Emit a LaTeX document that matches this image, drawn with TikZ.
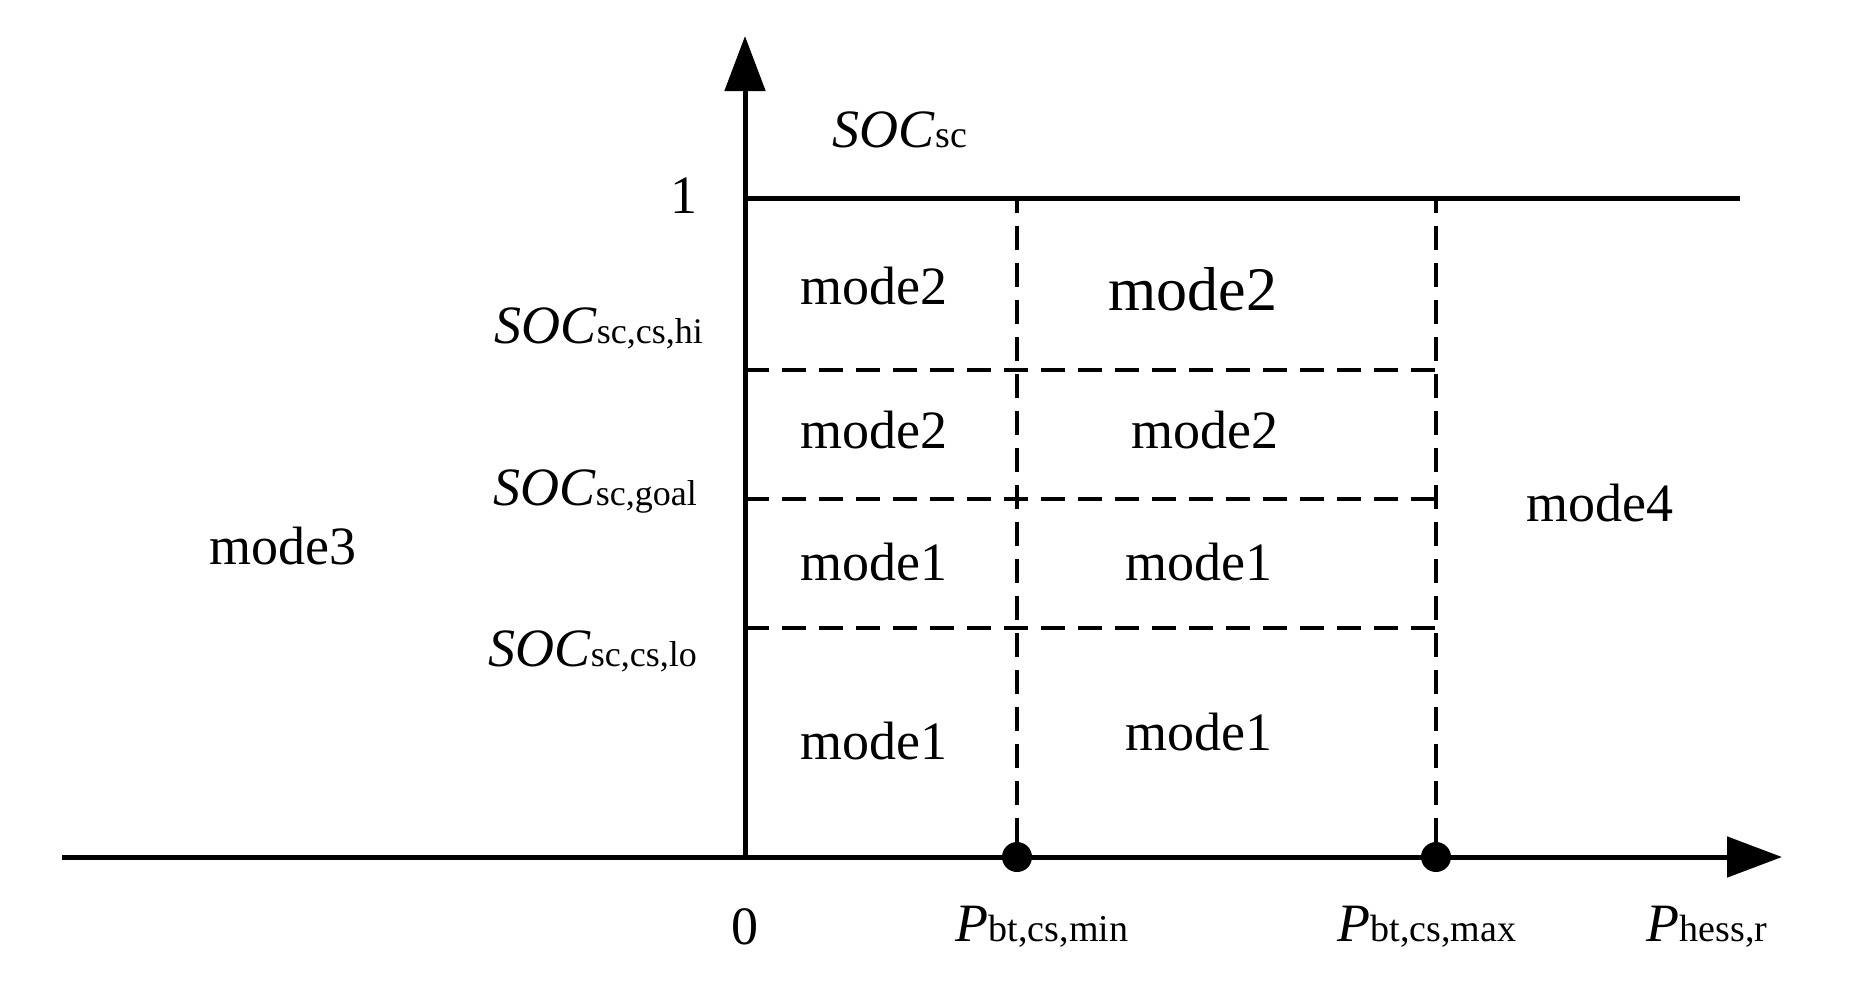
\documentclass[tikz,border=0pt]{standalone}
\usepackage{fontspec}
\setmainfont{Liberation Serif}
\usetikzlibrary{arrows.meta}
\begin{document}
\begin{tikzpicture}[x=1pt,y=-1pt,
  ax/.style={line width=5pt,-{Triangle[length=55pt,width=40pt]}},
  sl/.style={line width=5pt},
  dl/.style={line width=3.5pt,dash pattern=on 24pt off 13pt},
  lab/.style={font=\fontsize{54}{60}\selectfont,inner sep=0pt},
  big/.style={font=\fontsize{62}{68}\selectfont,inner sep=0pt},
  dot/.style={circle,fill=black,inner sep=0pt,minimum size=30pt}]
\useasboundingbox (0,0) rectangle (1868,1004);
\coordinate (o) at (745,857);
\coordinate (yt) at (745,36);
\coordinate (xs) at (62,857);
\coordinate (xt) at (1782,857);
\coordinate (t1) at (745,198);
\coordinate (t2) at (1740,198);
\node[dot] (d1) at (1017,857) {};
\node[dot] (d2) at (1436,857) {};
\coordinate (v1) at (1017,198);
\coordinate (v2) at (1436,198);
\coordinate (h1a) at (745,370); \coordinate (h1b) at (1436,370);
\coordinate (h2a) at (745,499); \coordinate (h2b) at (1436,499);
\coordinate (h3a) at (745,628); \coordinate (h3b) at (1436,628);
\draw[ax] (xs) -- (xt);
\draw[ax] (o) -- (yt);
\draw[sl] (t1) -- (t2);
\draw[dl] (d1) -- (v1);
\draw[dl] (d2) -- (v2);
\draw[dl] (h1a) -- (h1b);
\draw[dl] (h2a) -- (h2b);
\draw[dl] (h3a) -- (h3b);
\node[lab] (soc) at (900,130) {\textit{SOC}{\fontsize{38}{44}\selectfont sc}};
\node[lab] (one) at (684,196) {1};
\node[lab,anchor=east] (shi) at (703,328) {\textit{SOC}{\fontsize{36}{44}\selectfont sc,cs,hi}};
\node[lab,anchor=east] (sgo) at (697,492) {\textit{SOC}{\fontsize{36}{44}\selectfont sc,goal}};
\node[lab,anchor=east] (slo) at (697,651) {\textit{SOC}{\fontsize{36}{44}\selectfont sc,cs,lo}};
\node[lab] (m3) at (283,546) {mode3};
\node[lab] (m4) at (1600,503) {mode4};
\node[lab] (a1) at (874,286) {mode2};
\node[big] (b1) at (1193,289) {mode2};
\node[lab] (a2) at (874,430) {mode2};
\node[lab] (b2) at (1205,430) {mode2};
\node[lab] (a3) at (874,562) {mode1};
\node[lab] (b3) at (1199,562) {mode1};
\node[lab] (a4) at (874,741) {mode1};
\node[lab] (b4) at (1199,732) {mode1};
\node[lab] (zero) at (745,927) {0};
\node[lab] (pmin) at (1042,927) {\textit{P}{\fontsize{38}{44}\selectfont bt,cs,min}};
\node[lab] (pmax) at (1427,927) {\textit{P}{\fontsize{38}{44}\selectfont bt,cs,max}};
\node[lab] (ph) at (1707,927) {\textit{P}{\fontsize{38}{44}\selectfont hess,r}};
\end{tikzpicture}
\end{document}
